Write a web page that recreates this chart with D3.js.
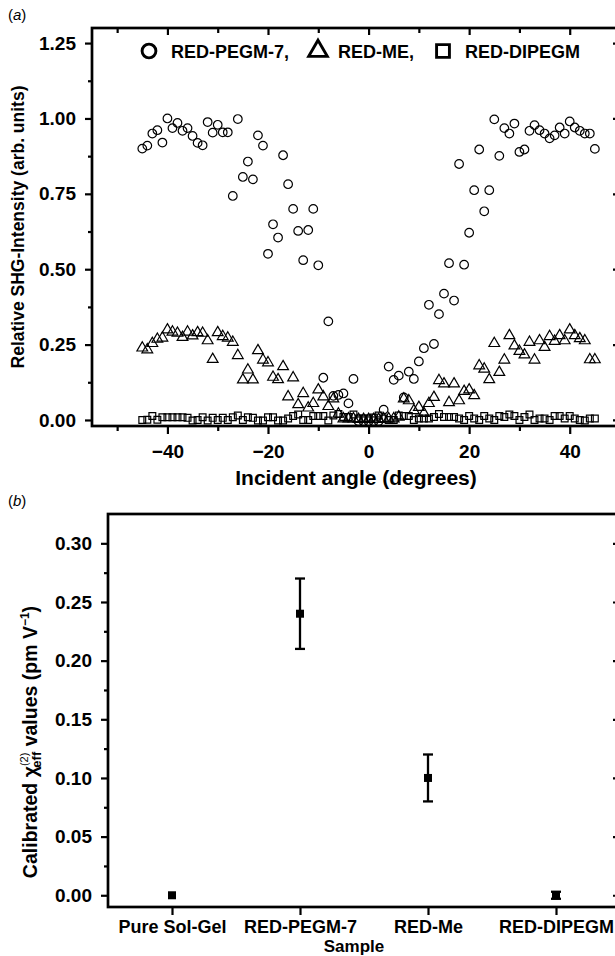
<!DOCTYPE html>
<html><head><meta charset="utf-8">
<script src="https://cdn.jsdelivr.net/npm/d3@7"></script>
<style>
body{margin:0;background:#fff}
svg{display:block}
text{font-family:"Liberation Sans",Arial,Helvetica,sans-serif;fill:#000}
</style>
</head><body>
<svg id="c" width="615" height="956"></svg>
<script>
// ---------- DATA : panel (a) ----------
const angles = [-45,-44,-43,-42,-41,-40,-39,-38,-37,-36,-35,-34,-33,-32,-31,-30,-29,-28,-27,-26,-25,-24,-23,-22,-21,-20,-19,-18,-17,-16,-15,-14,-13,-12,-11,-10,-9,-8,-7,-6,-5,-4,-3,-2,-1,0,1,2,3,4,5,6,7,8,9,10,11,12,13,14,15,16,17,18,19,20,21,22,23,24,25,26,27,28,29,30,31,32,33,34,35,36,37,38,39,40,41,42,43,44,45];
const redPegm7 = [0.900,0.910,0.950,0.961,0.920,1.000,0.968,0.985,0.959,0.968,0.942,0.919,0.911,0.988,0.953,0.979,0.954,0.954,0.743,0.998,0.806,0.857,0.798,0.944,0.910,0.551,0.649,0.605,0.878,0.782,0.700,0.627,0.530,0.630,0.700,0.513,0.140,0.327,0.080,0.083,0.088,0.055,0.136,-0.004,-0.004,-0.004,-0.004,-0.004,0.034,0.177,0.133,0.147,0.075,0.160,0.136,0.194,0.238,0.382,0.252,0.351,0.419,0.520,0.396,0.849,0.515,0.621,0.762,0.897,0.692,0.762,0.997,0.876,0.968,0.950,0.983,0.889,0.897,0.959,0.978,0.961,0.950,0.934,0.944,0.970,0.950,0.990,0.970,0.959,0.950,0.950,0.899];
const redMe = [0.239,0.233,0.254,0.268,0.272,0.299,0.292,0.288,0.274,0.292,0.279,0.290,0.288,0.263,0.201,0.290,0.277,0.272,0.258,0.214,0.133,0.166,0.133,0.230,0.199,0.190,0.142,0.134,0.177,0.077,0.140,0.051,0.088,0.040,0.055,0.100,0.077,0.045,0.070,0.020,0.004,0.004,0.004,0.002,0.002,0.002,0.002,0.002,0.004,0.004,0.004,0.010,0.070,0.064,0.031,0.042,0.022,0.055,0.075,0.131,0.120,0.058,0.120,0.064,0.095,0.100,0.081,0.180,0.169,0.134,0.254,0.158,0.199,0.280,0.246,0.228,0.216,0.258,0.199,0.263,0.241,0.277,0.261,0.280,0.263,0.299,0.280,0.270,0.263,0.200,0.200];
const redDipegm = [0.000,0.001,0.013,0.001,0.009,0.009,0.009,0.009,0.009,0.007,-0.002,0.000,0.009,-0.002,0.007,0.000,0.007,0.000,0.009,0.015,0.000,0.009,0.007,-0.002,-0.002,0.009,0.009,-0.002,-0.002,0.005,0.013,0.018,0.000,0.000,0.013,0.013,0.013,-0.002,0.015,0.020,0.010,0.010,0.018,0.005,0.005,0.005,0.008,0.015,0.005,0.000,0.000,0.015,0.013,0.013,0.000,0.005,0.005,0.005,0.010,0.020,0.010,0.010,0.010,0.005,0.000,0.013,0.005,0.000,0.013,0.005,0.000,0.013,0.010,0.018,0.013,0.000,0.010,0.018,0.000,0.005,0.005,0.000,0.013,0.013,0.005,0.013,0.005,0.000,-0.002,0.005,0.005];
const legendNames = ["RED-PEGM-7,", "RED-ME,", "RED-DIPEGM"];
const xTicksA = [-40,-20,0,20,40];
const xMinorA = [-50,-30,-10,10,30,50];
const yTicksA = [0,0.25,0.5,0.75,1.0,1.25];
const yMinorA = [0.125,0.375,0.625,0.875,1.125];

// ---------- DATA : panel (b) ----------
const samples = ["Pure Sol-Gel","RED-PEGM-7","RED-Me","RED-DIPEGM"];
const chiValues = [0.00,0.24,0.10,0.00];
const chiErrors = [0.000,0.030,0.020,0.003];
const yTicksB = [0,0.05,0.10,0.15,0.20,0.25,0.30];
const yMinorB = [0.025,0.075,0.125,0.175,0.225,0.275];

const svg = d3.select("#c");
const fmt2 = d3.format(".2f");
const minus = s => s.replace("-", "\u2212");

function axisStyle(g, w, fs){
  g.select(".domain").remove();
  g.selectAll(".tick line").attr("stroke","#000").attr("stroke-width",w);
  g.selectAll(".tick text").style("font-weight","bold").style("font-size",fs||"19px");
}

// ================= PANEL (a) =================
const A = {l:92, r:620, t:28, b:426};
const xA = d3.scaleLinear().domain([-55,50]).range([A.l,A.r]);
const yA = d3.scaleLinear().domain([-0.02,1.30]).range([A.b,A.t]);
const gA = svg.append("g");

gA.append("g").attr("transform",`translate(0,${A.b})`)
  .call(d3.axisBottom(xA).tickValues(xTicksA).tickSize(8).tickPadding(11).tickFormat(d=>minus(String(d))))
  .call(g=>axisStyle(g,2.2));
gA.append("g").attr("transform",`translate(0,${A.b})`)
  .call(d3.axisBottom(xA).tickValues(xMinorA).tickSize(5).tickFormat(""))
  .call(g=>axisStyle(g,2.2));
gA.append("g").attr("transform",`translate(0,${A.t})`)
  .call(d3.axisBottom(xA).tickValues(xTicksA).tickSize(7).tickFormat(""))
  .call(g=>axisStyle(g,2.2));
gA.append("g").attr("transform",`translate(0,${A.t})`)
  .call(d3.axisBottom(xA).tickValues(xMinorA).tickSize(5).tickFormat(""))
  .call(g=>axisStyle(g,2.2));
gA.append("g").attr("transform",`translate(${A.l},0)`)
  .call(d3.axisLeft(yA).tickValues(yTicksA).tickSize(7).tickPadding(9).tickFormat(fmt2))
  .call(g=>axisStyle(g,2.2));
gA.append("g").attr("transform",`translate(${A.l},0)`)
  .call(d3.axisLeft(yA).tickValues(yMinorA).tickSize(4).tickFormat(""))
  .call(g=>axisStyle(g,2.2));
gA.append("g").attr("transform",`translate(${A.r},0)`)
  .call(d3.axisLeft(yA).tickValues(yTicksA).tickSize(7).tickFormat(""))
  .call(g=>axisStyle(g,2.2));
gA.append("g").attr("transform",`translate(${A.r},0)`)
  .call(d3.axisLeft(yA).tickValues(yMinorA).tickSize(4).tickFormat(""))
  .call(g=>axisStyle(g,2.2));
gA.append("rect").attr("x",A.l).attr("y",A.t).attr("width",A.r-A.l).attr("height",A.b-A.t)
  .attr("fill","none").attr("stroke","#000").attr("stroke-width",2.7);

const seriesA = [
  {vals: redDipegm, s: d3.symbol().type(d3.symbolSquare).size(46)},
  {vals: redMe, s: d3.symbol().type(d3.symbolTriangle).size(50)},
  {vals: redPegm7, s: d3.symbol().type(d3.symbolCircle).size(58)}
];
seriesA.forEach(ser=>{
  gA.append("g").selectAll("path").data(angles.map((a,i)=>[a,ser.vals[i]])).join("path")
    .attr("d", ser.s)
    .attr("transform", d=>`translate(${xA(d[0])},${yA(d[1])})`)
    .attr("fill","none").attr("stroke","#000").attr("stroke-width",1.2);
});

// legend
const legY = 51;
const legItems = [
  {x:149, tx:171, s:d3.symbol().type(d3.symbolCircle).size(150)},
  {x:318, tx:338, s:d3.symbol().type(d3.symbolTriangle).size(150)},
  {x:443, tx:465, s:d3.symbol().type(d3.symbolSquare).size(165)}
];
legItems.forEach((it,i)=>{
  gA.append("path").attr("d",it.s).attr("transform",`translate(${it.x},${legY})`)
    .attr("fill","none").attr("stroke","#000").attr("stroke-width",2.9);
  gA.append("text").attr("x",it.tx).attr("y",legY+6.5).text(legendNames[i])
    .style("font-weight","bold").style("font-size","18px");
});

// titles
gA.append("text").attr("x",(A.l+A.r)/2).attr("y",485).attr("text-anchor","middle")
  .style("font-weight","bold").style("font-size","21px").text("Incident angle (degrees)");
gA.append("text").attr("transform",`translate(24,${(A.t+A.b)/2}) rotate(-90)`).attr("text-anchor","middle")
  .style("font-weight","bold").style("font-size","17.5px").text("Relative SHG-Intensity (arb. units)");
const la = gA.append("text").attr("x",8).attr("y",20).style("font-size","15px");
la.append("tspan").text("(");
la.append("tspan").style("font-style","italic").text("a");
la.append("tspan").text(")");

// ================= PANEL (b) =================
const B = {l:108, r:620, t:514, b:907};
const xB = d3.scaleLinear().domain([0.5,4.5]).range([B.l,B.r]);
const yB = d3.scaleLinear().domain([-0.01,0.325]).range([B.b,B.t]);
const gB = svg.append("g");
const catPos = samples.map((s,i)=>i+1);

gB.append("g").attr("transform",`translate(0,${B.b})`)
  .call(d3.axisBottom(xB).tickValues(catPos).tickSize(8).tickPadding(5).tickFormat((d,i)=>samples[i]))
  .call(g=>axisStyle(g,2.2,"18px"));
gB.append("g").attr("transform",`translate(${B.l},0)`)
  .call(d3.axisLeft(yB).tickValues(yTicksB).tickSize(7).tickPadding(9).tickFormat(fmt2))
  .call(g=>axisStyle(g,2.2));
gB.append("g").attr("transform",`translate(${B.l},0)`)
  .call(d3.axisLeft(yB).tickValues(yMinorB).tickSize(4).tickFormat(""))
  .call(g=>axisStyle(g,2.2));
gB.append("g").attr("transform",`translate(${B.r},0)`)
  .call(d3.axisLeft(yB).tickValues(yTicksB).tickSize(7).tickFormat(""))
  .call(g=>axisStyle(g,2.2));
gB.append("g").attr("transform",`translate(${B.r},0)`)
  .call(d3.axisLeft(yB).tickValues(yMinorB).tickSize(4).tickFormat(""))
  .call(g=>axisStyle(g,2.2));
gB.append("rect").attr("x",B.l).attr("y",B.t).attr("width",B.r-B.l).attr("height",B.b-B.t)
  .attr("fill","none").attr("stroke","#000").attr("stroke-width",2.7);

const pts = samples.map((s,i)=>({x:catPos[i], v:chiValues[i], e:chiErrors[i]}));
const eb = gB.append("g").selectAll("g").data(pts.filter(d=>d.e>0)).join("g");
eb.append("line").attr("x1",d=>xB(d.x)).attr("x2",d=>xB(d.x))
  .attr("y1",d=>yB(d.v-d.e)).attr("y2",d=>yB(d.v+d.e)).attr("stroke","#000").attr("stroke-width",2.3);
eb.append("line").attr("x1",d=>xB(d.x)-5).attr("x2",d=>xB(d.x)+5)
  .attr("y1",d=>yB(d.v+d.e)).attr("y2",d=>yB(d.v+d.e)).attr("stroke","#000").attr("stroke-width",2.3);
eb.append("line").attr("x1",d=>xB(d.x)-5).attr("x2",d=>xB(d.x)+5)
  .attr("y1",d=>yB(d.v-d.e)).attr("y2",d=>yB(d.v-d.e)).attr("stroke","#000").attr("stroke-width",2.3);
gB.append("g").selectAll("path").data(pts).join("path")
  .attr("d", d3.symbol().type(d3.symbolSquare).size(64))
  .attr("transform", d=>`translate(${xB(d.x)},${yB(d.v)})`).attr("fill","#000");

gB.append("text").attr("x",354).attr("y",952).attr("text-anchor","middle")
  .style("font-weight","bold").style("font-size","17px").text("Sample");
const yt = gB.append("text").attr("transform",`translate(37,742) rotate(-90)`).attr("text-anchor","middle")
  .style("font-weight","bold").style("font-size","19.5px");
yt.append("tspan").text("Calibrated \u03C7");
yt.append("tspan").attr("dy",-9).style("font-size","11px").style("font-weight","normal").text("(2)");
yt.append("tspan").attr("dx",-15).attr("dy",13).style("font-size","13px").text("eff");
yt.append("tspan").attr("dy",-4).text(" values (pm V");
yt.append("tspan").attr("dy",-8).style("font-size","12px").text("\u22121");
yt.append("tspan").attr("dy",8).text(")");
const lb = gB.append("text").attr("x",8).attr("y",506).style("font-size","15px");
lb.append("tspan").text("(");
lb.append("tspan").style("font-style","italic").text("b");
lb.append("tspan").text(")");
</script>
</body></html>
